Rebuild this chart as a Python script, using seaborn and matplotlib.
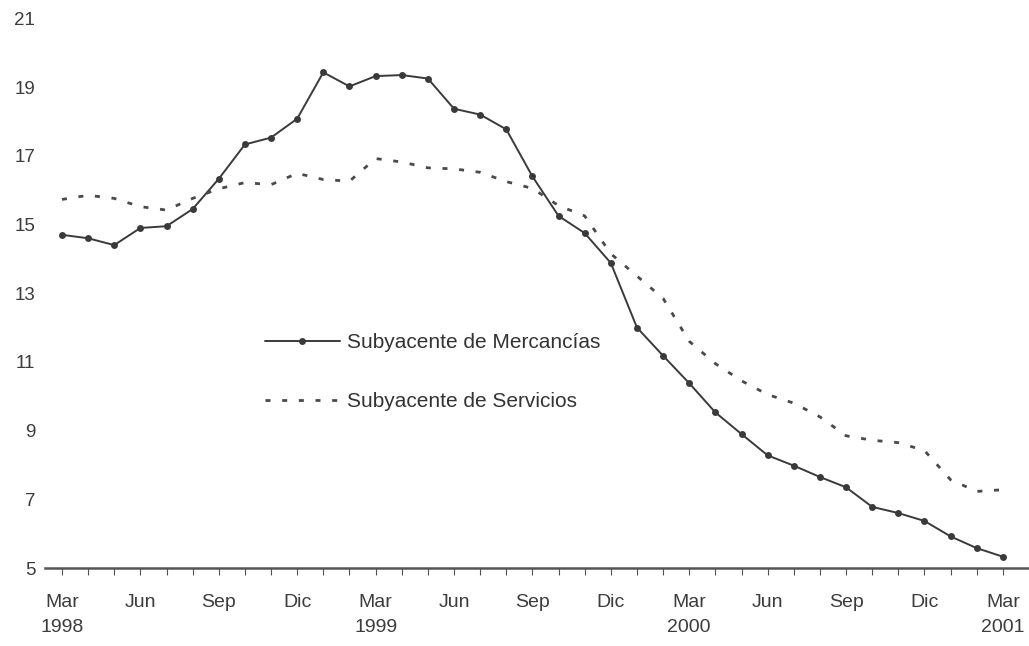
import numpy as np
import pandas as pd
import matplotlib
matplotlib.use("Agg")
import matplotlib.pyplot as plt
import seaborn as sns

# Monthly data, Mar 1998 - Mar 2001
meses = pd.date_range("1998-03-01", "2001-03-01", freq="MS")
mercancias = [14.7, 14.6, 14.4, 14.9, 14.95, 15.45, 16.33, 17.33, 17.53, 18.08,
              19.43, 19.02, 19.32, 19.35, 19.25, 18.37, 18.2, 17.77, 16.4, 15.25,
              14.75, 13.88, 12.0, 11.18, 10.38, 9.53, 8.9, 8.28, 7.98, 7.65,
              7.35, 6.78, 6.6, 6.37, 5.92, 5.58, 5.33]
servicios = [15.73, 15.85, 15.76, 15.52, 15.42, 15.76, 16.04, 16.22, 16.16, 16.49,
             16.31, 16.26, 16.92, 16.82, 16.65, 16.62, 16.52, 16.25, 16.05, 15.55,
             15.25, 14.15, 13.5, 12.85, 11.6, 10.95, 10.45, 10.05, 9.8, 9.4,
             8.85, 8.72, 8.65, 8.42, 7.57, 7.23, 7.28]
nombres_mes = {3: "Mar", 6: "Jun", 9: "Sep", 12: "Dic"}

df = pd.DataFrame({"t": np.arange(len(meses)),
                   "Subyacente de Mercancías": mercancias,
                   "Subyacente de Servicios": servicios})

sns.set_theme(style="white")
plt.rcParams["font.family"] = ["Liberation Sans", "DejaVu Sans"]

fig = plt.figure(figsize=(10.29, 6.46), dpi=100)
ax = fig.add_axes([0.0437, 0.1207, 0.9563, 0.879])

sns.lineplot(data=df, x="t", y="Subyacente de Mercancías", ax=ax, color="#3a3a3a",
             linewidth=1.4, marker="o", markersize=5, markeredgewidth=0,
             label="Subyacente de Mercancías")
sns.lineplot(data=df, x="t", y="Subyacente de Servicios", ax=ax, color="#4a4a4a",
             linewidth=2.0, linestyle=(0, (1.8, 4.2)),
             label="Subyacente de Servicios")

ax.set_xlim(-0.65, 37.0)
ax.set_ylim(5, 21.53)
ax.set_yticks(range(5, 22, 2))
ax.set_yticklabels([str(v) for v in range(5, 22, 2)], fontsize=13.5, color="#3c3c3c")

ax.set_xticks(df["t"])
labels = []
for i, m in enumerate(meses):
    if m.month in nombres_mes:
        lab = nombres_mes[m.month]
        if m.month == 3:
            lab += "\n" + str(m.year)
        labels.append(lab)
    else:
        labels.append("")
ax.set_xticklabels(labels, fontsize=14, color="#3c3c3c", linespacing=1.55)
ax.tick_params(axis="x", direction="out", length=5, width=0.8, color="#555555", pad=14,
               bottom=True)
ax.tick_params(axis="y", length=0, pad=7)

for s in ["left", "top", "right"]:
    ax.spines[s].set_visible(False)
ax.spines["bottom"].set_color("#555555")
ax.spines["bottom"].set_linewidth(1.8)
ax.set_xlabel("")
ax.set_ylabel("")

ax.legend(loc="upper left", bbox_to_anchor=(0.2575, 0.484), bbox_transform=fig.transFigure,
          frameon=False, fontsize=15, handlelength=3.6, handletextpad=0.35,
          labelspacing=1.9, borderpad=0, borderaxespad=0, numpoints=1,
          labelcolor="#333333")

fig.savefig("out.png", dpi=100, facecolor="white")
